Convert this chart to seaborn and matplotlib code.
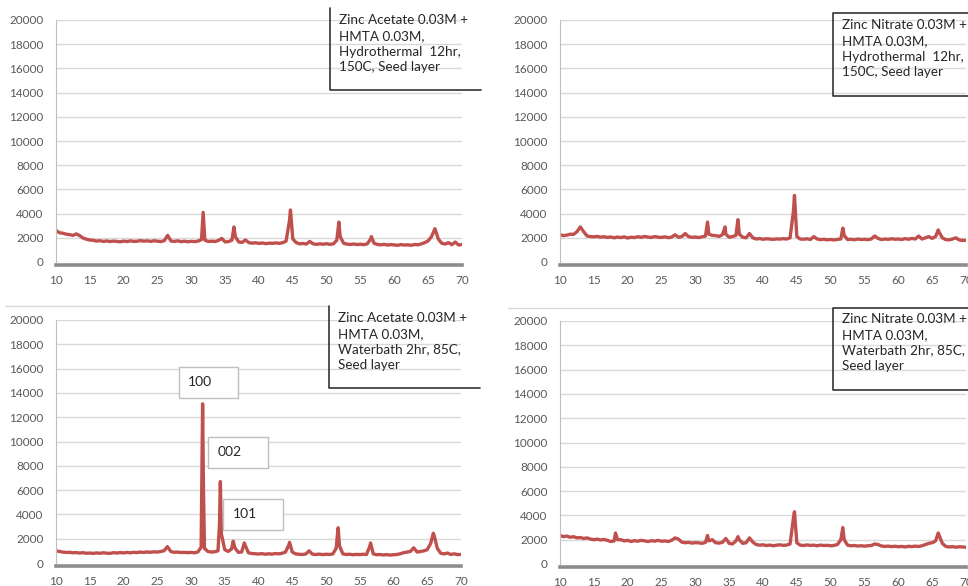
import numpy as np
import pandas as pd
import seaborn as sns
import matplotlib.pyplot as plt
from matplotlib.lines import Line2D
from matplotlib.patches import Rectangle

# 2-theta sampling grid (0.5 deg steps) for the hand-read background
TWO_THETA = np.arange(10, 70.01, 0.5)

# --- Zinc Acetate, hydrothermal ---
ACETATE_HYDRO_BASE = [
    2600, 2420, 2380, 2300, 2260, 2200, 2320, 2180, 1980, 1880,
    1820, 1790, 1730, 1760, 1700, 1740, 1690, 1730, 1700, 1670,
    1730, 1690, 1750, 1700, 1720, 1770, 1720, 1750, 1700, 1760,
    1720, 1690, 1760, 2200, 1730, 1700, 1750, 1680, 1720, 1670,
    1710, 1680, 1730, 1850, 1800, 1700, 1720, 1690, 1780, 1950,
    1660, 1690, 1800, 2100, 1660, 1620, 1820, 1600, 1560, 1590,
    1540, 1570, 1520, 1560, 1540, 1580, 1540, 1600, 1720, 3400,
    1900, 1600, 1500, 1530, 1480, 1700, 1500, 1460, 1500, 1470,
    1510, 1460, 1500, 1800, 2100, 1550, 1480, 1450, 1490, 1440,
    1470, 1430, 1500, 1900, 1550, 1450, 1420, 1460, 1400, 1440,
    1410, 1380, 1440, 1400, 1420, 1380, 1450, 1420, 1500, 1600,
    1750, 2100, 2750, 1900, 1550, 1480, 1600, 1430, 1650, 1400,
    1450,
]
ACETATE_HYDRO_PEAK_X = [31.75, 36.3, 44.65, 51.8, 56.6]
ACETATE_HYDRO_PEAK_Y = [4100, 2900, 4300, 3300, 2100]

# --- Zinc Nitrate, hydrothermal ---
NITRATE_HYDRO_BASE = [
    2250, 2180, 2220, 2300, 2280, 2500, 2900, 2500, 2150, 2100,
    2080, 2120, 2050, 2090, 2030, 2070, 2000, 2060, 2020, 2080,
    1980, 2050, 2020, 2090, 2040, 2110, 2060, 2030, 2100, 2050,
    2030, 2080, 2010, 2060, 2250, 2050, 2100, 2350, 2100, 2040,
    2060, 2020, 2080, 2150, 2300, 2200, 2180, 2120, 2250, 2300,
    2050, 2100, 2200, 2300, 2050, 2000, 2350, 2000, 1900, 1940,
    1880, 1920, 1900, 1870, 1910, 1890, 1930, 1900, 2000, 4200,
    2100, 1900, 1880, 1920, 1860, 2100, 1900, 1850, 1880, 1830,
    1860, 1820, 1870, 1900, 2200, 1850, 1880, 1840, 1900, 1860,
    1880, 1850, 1900, 2150, 1950, 1850, 1900, 1870, 1920, 1880,
    1900, 1860, 1930, 1880, 1950, 1900, 2150, 1900, 2000, 2100,
    1950, 2100, 2500, 2000, 1850, 1830, 1900, 2000, 1820, 1780,
    1800,
]
NITRATE_HYDRO_PEAK_X = [31.8, 34.4, 36.3, 44.65, 51.8, 65.9]
NITRATE_HYDRO_PEAK_Y = [3300, 2900, 3500, 5500, 2800, 2650]

# --- Zinc Acetate, waterbath ---
ACETATE_BATH_BASE = [
    1000, 950, 900, 870, 880, 840, 860, 820, 850, 800,
    820, 790, 830, 800, 840, 810, 790, 850, 820, 860,
    830, 870, 840, 880, 860, 900, 870, 910, 880, 920,
    900, 950, 1000, 1350, 950, 880, 900, 860, 880, 850,
    870, 840, 900, 1300, 1200, 950, 900, 920, 1000, 2400,
    1100, 950, 1150, 1250, 880, 900, 1500, 850, 780, 760,
    740, 770, 720, 760, 730, 780, 750, 800, 900, 1500,
    900, 750, 720, 700, 740, 1000, 720, 700, 730, 690,
    720, 700, 740, 1200, 1400, 750, 700, 720, 680, 710,
    690, 720, 700, 1400, 750, 680, 700, 660, 690, 650,
    680, 700, 760, 850, 900, 950, 1250, 900, 950, 1000,
    1100, 1600, 2300, 1200, 800, 750, 820, 700, 760, 690,
    700,
]
ACETATE_BATH_PEAK_X = [31.6, 31.72, 31.85, 34.22, 34.35, 36.25, 37.9, 44.6, 51.8, 56.6, 65.9]
ACETATE_BATH_PEAK_Y = [6500, 13100, 6000, 3200, 6700, 1800, 1650, 1700, 2900, 1650, 2450]

# --- Zinc Nitrate, waterbath ---
NITRATE_BATH_BASE = [
    2350, 2250, 2300, 2200, 2250, 2150, 2180, 2100, 2150, 2050,
    2000, 2050, 1980, 2020, 1950, 1850, 1900, 2000, 2000, 1900,
    1950, 1850, 1920, 1880, 1950, 1900, 1850, 1920, 1880, 1950,
    1870, 1900, 1850, 1950, 2150, 2050, 1800, 1750, 1780, 1720,
    1760, 1740, 1700, 1780, 1900, 2000, 1750, 1720, 1780, 2100,
    1700, 1650, 1900, 2000, 1700, 1750, 2150, 1800, 1600, 1550,
    1580, 1520, 1560, 1500, 1550, 1580, 1530, 1560, 1650, 3800,
    1750, 1550, 1520, 1570, 1530, 1550, 1500, 1560, 1520, 1540,
    1500, 1530, 1600, 2000, 2000, 1550, 1500, 1520, 1480, 1500,
    1470, 1500, 1520, 1650, 1600, 1480, 1450, 1470, 1430, 1460,
    1420, 1450, 1400, 1460, 1430, 1470, 1440, 1500, 1600, 1700,
    1750, 1900, 2400, 1700, 1450, 1400, 1430, 1380, 1420, 1400,
    1380,
]
NITRATE_BATH_PEAK_X = [18.2, 31.8, 36.3, 44.65, 51.8, 65.9]
NITRATE_BATH_PEAK_Y = [2550, 2350, 2250, 4300, 3000, 2550]

SAMPLE_LABELS = [
    "Zinc Acetate 0.03M +\nHMTA 0.03M,\nHydrothermal  12hr,\n150C, Seed layer",
    "Zinc Nitrate 0.03M +\nHMTA 0.03M,\nHydrothermal  12hr,\n150C, Seed layer",
    "Zinc Acetate 0.03M +\nHMTA 0.03M,\nWaterbath 2hr, 85C,\nSeed layer",
    "Zinc Nitrate 0.03M +\nHMTA 0.03M,\nWaterbath 2hr, 85C,\nSeed layer",
]
HKL_LABELS = ["100", "002", "101"]


def spectrum(base, peak_x, peak_y):
    df = pd.DataFrame({
        "two_theta": np.concatenate([TWO_THETA, peak_x]),
        "counts": np.concatenate([base, peak_y]),
    })
    return df.sort_values("two_theta")


spectra = [
    spectrum(ACETATE_HYDRO_BASE, ACETATE_HYDRO_PEAK_X, ACETATE_HYDRO_PEAK_Y),
    spectrum(NITRATE_HYDRO_BASE, NITRATE_HYDRO_PEAK_X, NITRATE_HYDRO_PEAK_Y),
    spectrum(ACETATE_BATH_BASE, ACETATE_BATH_PEAK_X, ACETATE_BATH_PEAK_Y),
    spectrum(NITRATE_BATH_BASE, NITRATE_BATH_PEAK_X, NITRATE_BATH_PEAK_Y),
]

sns.set_theme(style="white")
plt.rcParams["font.family"] = ["Lato", "DejaVu Sans"]

W, H = 968, 586
fig = plt.figure(figsize=(W / 100, H / 100), dpi=100)
fig.patch.set_facecolor("white")


def px_rect(l, t, r, b):
    return [l / W, 1 - b / H, (r - l) / W, (b - t) / H]


def fx(x):
    return x / W


def fy(y):
    return 1 - y / H


# plot areas (pixel boxes of the reference)
panel_boxes = [
    (56, 20, 462, 262),
    (560, 20, 966, 262),
    (56, 320, 461, 563),
    (560, 321, 966, 564),
]

RED = "#c0504d"
TICK_COLOR = "#595959"

axes = []
for box, df in zip(panel_boxes, spectra):
    ax = fig.add_axes(px_rect(*box))
    sns.lineplot(data=df, x="two_theta", y="counts", ax=ax, color=RED,
                 linewidth=2.4, estimator=None, sort=False)
    ax.set_xlim(10, 70)
    ax.set_ylim(0, 20000)
    ax.set_xticks(np.arange(10, 71, 5))
    ax.set_yticks(np.arange(0, 20001, 2000))
    ax.set_xlabel("")
    ax.set_ylabel("")
    ax.yaxis.grid(True, color="#d9d9d9", linewidth=1)
    ax.set_axisbelow(True)
    ax.set_facecolor("white")
    for side in ["top", "right"]:
        ax.spines[side].set_visible(False)
    ax.spines["left"].set_color("#bfbfbf")
    ax.spines["left"].set_linewidth(0.8)
    ax.spines["bottom"].set_color("#8c8c8c")
    ax.spines["bottom"].set_linewidth(2.6)
    ax.spines["bottom"].set_position(("outward", 2.2))
    ax.tick_params(axis="x", length=0, pad=7, labelsize=8.5, labelcolor=TICK_COLOR)
    ax.tick_params(axis="y", length=3, width=0.8, color="#bfbfbf", pad=6,
                   labelsize=8.5, labelcolor=TICK_COLOR)
    axes.append(ax)

# hkl labels on the waterbath acetate pattern
ax3 = axes[2]
hkl_boxes = [(28.2, 13580, 37.0, 16130), (32.5, 7820, 41.4, 10370), (34.7, 2716, 43.6, 5267)]
hkl_text_pos = [(29.6, 14900), (33.9, 9100), (36.2, 4000)]
for label, (x0, y0, x1, y1), (tx, ty) in zip(HKL_LABELS, hkl_boxes, hkl_text_pos):
    ax3.add_patch(Rectangle((x0, y0), x1 - x0, y1 - y0, facecolor="white",
                            edgecolor="#bfbfbf", linewidth=1, zorder=5))
    ax3.text(tx, ty, label, fontsize=10, color="#262626", ha="left", va="center", zorder=6)

# light chart-area borders between the rows
fig.add_artist(Line2D([fx(5), fx(329)], [fy(306), fy(306)], color="#d9d9d9", lw=1))
fig.add_artist(Line2D([fx(508), fx(833)], [fy(308), fy(308)], color="#d9d9d9", lw=1))

# sample description boxes
BOX_EDGE = "#333333"
box_lines = [
    # panel 1: left + bottom
    ([330, 330, 481], [8, 90, 90]),
    # panel 2: top + left + bottom
    ([968, 833, 833, 968], [13, 13, 96, 96]),
    # panel 3
    ([329, 329, 480], [306, 388, 388]),
    # panel 4
    ([968, 833, 833, 968], [308, 308, 390, 390]),
]
for xs, ys in box_lines:
    fig.add_artist(Line2D([fx(x) for x in xs], [fy(y) for y in ys], color=BOX_EDGE, lw=1.2))

text_anchor = [(339, 14), (842, 19), (338, 312), (842, 313)]
for label, (tx, ty) in zip(SAMPLE_LABELS, text_anchor):
    fig.text(fx(tx), fy(ty), label, ha="left", va="top", fontsize=9.7,
             linespacing=1.38, color="#262626")

fig.savefig("out.png", dpi=100, facecolor="white")
